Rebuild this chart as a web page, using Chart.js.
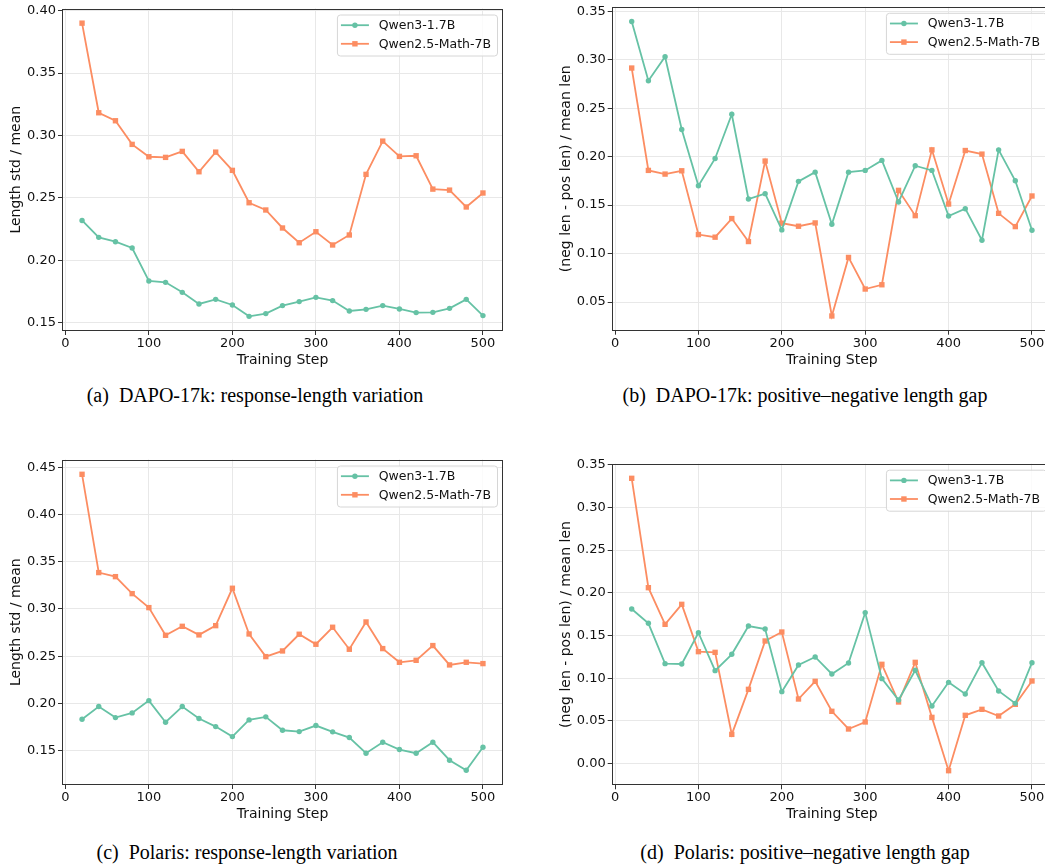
<!DOCTYPE html>
<html><head><meta charset="utf-8">
<script src="https://cdn.jsdelivr.net/npm/chart.js@4.4.1/dist/chart.umd.min.js"></script>
<style>
html,body{margin:0;padding:0;overflow:hidden;background:#fff;width:1045px;height:867px}
#wrap{position:relative;width:1045px;height:867px;overflow:hidden;background:#fff}
canvas{position:absolute}
.cap{position:absolute;font-family:"Liberation Serif","Times New Roman",serif;font-size:20px;color:#000;white-space:nowrap;transform:translateX(-50%);line-height:24px}
</style></head><body><div id="wrap">
<canvas id="ca" width="520" height="380" style="left:0;top:0"></canvas>
<canvas id="cb" width="530" height="380" style="left:540px;top:0"></canvas>
<canvas id="cc" width="520" height="380" style="left:0;top:450px"></canvas>
<canvas id="cd" width="530" height="380" style="left:540px;top:450px"></canvas>
<div class="cap" style="left:255px;top:383px">(a)&nbsp; DAPO-17k: response-length variation</div>
<div class="cap" style="left:805px;top:383px">(b)&nbsp; DAPO-17k: positive–negative length gap</div>
<div class="cap" style="left:247px;top:840px">(c)&nbsp; Polaris: response-length variation</div>
<div class="cap" style="left:805px;top:840px">(d)&nbsp; Polaris: positive–negative length gap</div>
</div>
<script>
// ---------- data ----------
const steps = [20,40,60,80,100,120,140,160,180,200,220,240,260,280,300,320,340,360,380,400,420,440,460,480,500];
const seriesNames = ["Qwen3-1.7B", "Qwen2.5-Math-7B"];

const dapoQwen3Var = [0.232,0.2185,0.215,0.210,0.1836,0.1825,0.1745,0.1652,0.1689,0.1644,0.1553,0.1575,0.1639,0.1671,0.1705,0.1679,0.1596,0.1609,0.1639,0.1612,0.1583,0.1585,0.1617,0.1689,0.1559];
const dapoMathVar  = [0.3899,0.3182,0.3118,0.2929,0.283,0.2825,0.2873,0.271,0.2867,0.2721,0.2462,0.2404,0.226,0.2142,0.223,0.2124,0.2204,0.2689,0.2955,0.2833,0.2838,0.2571,0.2563,0.2428,0.254];

const dapoQwen3Gap = [0.3394,0.2783,0.303,0.228,0.170,0.1981,0.2437,0.1563,0.1618,0.1244,0.1745,0.184,0.1302,0.184,0.1858,0.1961,0.1532,0.1906,0.1858,0.1388,0.1463,0.1138,0.207,0.1751,0.1241];
const dapoMathGap  = [0.2914,0.1858,0.182,0.1854,0.1196,0.1169,0.1361,0.1124,0.1954,0.1313,0.1282,0.1316,0.0356,0.096,0.0634,0.0678,0.1652,0.1391,0.207,0.1511,0.2063,0.2026,0.1415,0.1278,0.1594];

const polQwen3Var = [0.1832,0.1966,0.1849,0.1899,0.2029,0.180,0.1966,0.1839,0.1754,0.1648,0.1825,0.1857,0.1715,0.1701,0.1765,0.1698,0.1638,0.1472,0.1588,0.1511,0.1472,0.1588,0.1398,0.1292,0.1535];
const polMathVar  = [0.4426,0.3385,0.3342,0.3162,0.3014,0.2721,0.2816,0.2725,0.2823,0.3219,0.2735,0.2495,0.2555,0.2732,0.2626,0.2806,0.2573,0.2862,0.258,0.2435,0.2456,0.2612,0.2407,0.2435,0.2421];

const polQwen3Gap = [0.181,0.1643,0.1171,0.1167,0.1533,0.1089,0.128,0.1611,0.1576,0.0843,0.1155,0.1249,0.105,0.1178,0.1768,0.0995,0.0745,0.1093,0.0675,0.0952,0.0816,0.1182,0.0851,0.0706,0.1182];
const polMathGap  = [0.334,0.206,0.1631,0.1865,0.1311,0.1303,0.0343,0.087,0.1436,0.1541,0.0757,0.0964,0.0613,0.0406,0.0488,0.1163,0.0722,0.1186,0.0542,-0.0082,0.0566,0.0636,0.0558,0.0695,0.0968];

const xTickValues = [0,100,200,300,400,500];
const yTicksA = [0.15,0.20,0.25,0.30,0.35,0.40];
const yTicksB = [0.05,0.10,0.15,0.20,0.25,0.30,0.35];
const yTicksC = [0.15,0.20,0.25,0.30,0.35,0.40,0.45];
const yTicksD = [0.00,0.05,0.10,0.15,0.20,0.25,0.30,0.35];

const xTitle = "Training Step";
const yTitleVar = "Length std / mean";
const yTitleGap = "(neg len - pos len) / mean len";

// ---------- style ----------
const GREEN = "#66c2a5", ORANGE = "#fc8d62";
const FONT = '"DejaVu Sans", Verdana, sans-serif';
Chart.defaults.font.family = FONT;
Chart.defaults.color = "#111";

function pad(lo, hi){ const s = hi - lo; return [lo - 0.05*s, hi + 0.05*s]; }

const framePlugin = {
  id: 'frame',
  afterDraw(chart){
    const {ctx, chartArea: a} = chart;
    ctx.save();
    ctx.strokeStyle = '#333';
    ctx.lineWidth = 1;
    ctx.strokeRect(Math.round(a.left)+0.5, Math.round(a.top)+0.5, Math.round(a.right)-Math.round(a.left)-1, Math.round(a.bottom)-Math.round(a.top)-1);
    ctx.restore();
  }
};

function drawMarker(ctx, style, x, y, color){
  ctx.fillStyle = color;
  if (style === 'circle'){ ctx.beginPath(); ctx.arc(x, y, 2.7, 0, Math.PI*2); ctx.fill(); }
  else { ctx.fillRect(x-2.7, y-2.7, 5.4, 5.4); }
}

const legendPlugin = {
  id: 'innerLegend',
  afterDraw(chart){
    const {ctx, chartArea: a} = chart;
    ctx.save();
    ctx.font = '12.5px ' + FONT;
    const ds = chart.data.datasets;
    const tw = Math.max(...ds.map(d => ctx.measureText(d.label).width));
    const w = 41.7 + tw + 6, h = 41;
    const x = a.right - 6 - w, y = a.top + 6;
    ctx.beginPath();
    ctx.roundRect(x+0.5, y+0.5, w, h, 3);
    ctx.fillStyle = 'rgba(255,255,255,0.8)';
    ctx.fill();
    ctx.strokeStyle = '#d6d6d6';
    ctx.lineWidth = 1;
    ctx.stroke();
    const rows = [y+10.7, y+29.3];
    ds.forEach((d, i) => {
      const ry = rows[i];
      ctx.strokeStyle = d.borderColor; ctx.lineWidth = 1.8;
      ctx.beginPath(); ctx.moveTo(x+4, ry); ctx.lineTo(x+32, ry); ctx.stroke();
      drawMarker(ctx, d.pointStyle, x+18, ry, d.borderColor);
      ctx.fillStyle = '#111'; ctx.textBaseline = 'middle'; ctx.textAlign = 'left';
      ctx.fillText(d.label, x+41.7, ry+0.5);
    });
    ctx.restore();
  }
};

function makeChart(id, s1, s2, yTicks, yTitle, g){
  const allY = s1.concat(s2);
  const [ymin, ymax] = pad(Math.min(...allY), Math.max(...allY));
  const [xmin, xmax] = pad(Math.min(...steps), Math.max(...steps));
  const toPts = arr => steps.map((s, i) => ({x: s, y: arr[i]}));
  const mkDs = (label, arr, color, style, r) => ({
    label, data: toPts(arr), borderColor: color, backgroundColor: color,
    borderWidth: 1.8, pointStyle: style, pointRadius: r, pointHoverRadius: r,
    pointBorderWidth: 0, tension: 0, clip: false
  });
  new Chart(document.getElementById(id), {
    type: 'line',
    data: { datasets: [
      mkDs(seriesNames[0], s1, GREEN, 'circle', 2.7),
      mkDs(seriesNames[1], s2, ORANGE, 'rect', 3.8)
    ]},
    options: {
      responsive: false, animation: false, devicePixelRatio: 1,
      layout: { padding: { left: 0, right: g.right, top: g.top, bottom: 0 } },
      plugins: { legend: { display: false }, tooltip: { enabled: false } },
      scales: {
        x: {
          type: 'linear', min: xmin, max: xmax,
          afterBuildTicks: s => { s.ticks = xTickValues.map(v => ({value: v})); },
          afterFit: s => { s.height = g.xh; s.paddingLeft = 0; s.paddingRight = 0; },
          ticks: { font: { size: 13 }, color: '#111', padding: 1, maxRotation: 0, autoSkip: false, callback: v => String(v) },
          grid: { color: '#e8e8e8', lineWidth: 1, tickColor: '#333', tickLength: 4, drawTicks: true },
          border: { display: false },
          title: { display: true, text: xTitle, font: { size: 14 }, color: '#111', padding: { top: 0, bottom: g.xtp } }
        },
        y: {
          type: 'linear', min: ymin, max: ymax,
          afterBuildTicks: s => { s.ticks = yTicks.map(v => ({value: v})); },
          afterFit: s => { s.width = g.yw; s.paddingTop = 0; s.paddingBottom = 0; },
          ticks: { font: { size: 13 }, color: '#111', padding: 2, autoSkip: false, callback: v => v.toFixed(2) },
          grid: { color: '#e8e8e8', lineWidth: 1, tickColor: '#333', tickLength: 4, drawTicks: true },
          border: { display: false },
          title: { display: true, text: yTitle, font: { size: 14 }, color: '#111', padding: { top: g.ytp, bottom: 0 } }
        }
      }
    },
    plugins: [framePlugin, legendPlugin]
  });
}

makeChart('ca', dapoQwen3Var, dapoMathVar, yTicksA, yTitleVar, { top: 8.5, right: 17, xh: 49, yw: 62, xtp: 11.6, ytp: 7.6 });
makeChart('cb', dapoQwen3Gap, dapoMathGap, yTicksB, yTitleGap, { top: 6.8, right: 18, xh: 49.3, yw: 71.7, xtp: 11.6, ytp: 17.6 });
makeChart('cc', polQwen3Var, polMathVar, yTicksC, yTitleVar, { top: 9.5, right: 17, xh: 45, yw: 62, xtp: 7.6, ytp: 7.6 });
makeChart('cd', polQwen3Gap, polMathGap, yTicksD, yTitleGap, { top: 13.7, right: 18, xh: 44.7, yw: 71.7, xtp: 7.6, ytp: 17.6 });
</script>
</body></html>
